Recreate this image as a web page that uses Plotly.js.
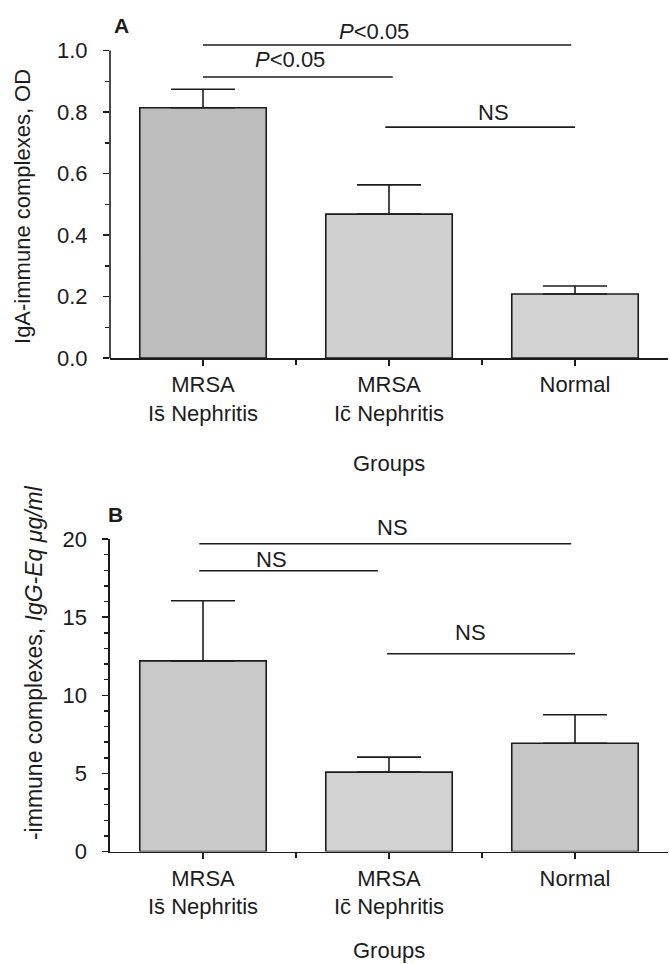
<!DOCTYPE html>
<html>
<head>
<meta charset="utf-8">
<script src="https://cdn.plot.ly/plotly-3.0.1.min.js"></script>
<style>html,body{margin:0;padding:0;background:#fff;}#chart{width:670px;height:964px;}</style>
</head>
<body>
<div id="chart"></div>
<script>
// ---- data ----
const categories = ['MRSA<br>Is\u0304 Nephritis', 'MRSA<br>Ic\u0304 Nephritis', 'Normal'];
const xIndex = [0, 1, 2];
const igaMean = [0.814, 0.468, 0.208];
const igaErr = [0.060, 0.095, 0.026];
const iggMean = [12.2, 5.08, 6.93];
const iggErr = [3.85, 0.96, 1.82];
const yTicksA = [0, 0.2, 0.4, 0.6, 0.8, 1.0];
const yTicksB = [0, 5, 10, 15, 20];
const sigLabelsA = ['<i>P</i>&lt;0.05', '<i>P</i>&lt;0.05', 'NS'];
const sigLabelsB = ['NS', 'NS', 'NS'];

// ---- styles / positions ----
const colorsA = ['#bdbdbd', '#d0d0d0', '#d2d2d2'];
const colorsB = ['#c9c9c9', '#d2d2d2', '#c6c6c6'];
const ink = '#1c1c1c';
const FONT = 'Liberation Sans, Arial, Helvetica, sans-serif';
// comparison lines (data coords) and their label positions (x data, y paper)
const barsA = {from: [0, 0, 0.98], to: [1.98, 1.02, 2.0], y: [1.018, 0.914, 0.751],
  tx: [0.92, 0.47, 1.56], ty: [0.9678, 0.9378, 0.8828]};
const barsB = {from: [-0.02, -0.02, 0.99], to: [1.98, 0.94, 2.0], y: [19.7, 17.97, 12.66],
  tx: [1.02, 0.37, 1.44], ty: [0.4533, 0.4201, 0.3434]};

function barTrace(y, err, colors, xa, ya) {
  return {
    type: 'bar', x: xIndex, y: y, xaxis: xa, yaxis: ya, width: 0.68,
    marker: {color: colors, line: {color: ink, width: 1.6}},
    error_y: {type: 'data', symmetric: false, array: err, arrayminus: [0, 0, 0],
      color: ink, thickness: 1.6, width: 32},
    showlegend: false, hoverinfo: 'skip'
  };
}

const data = [
  barTrace(igaMean, igaErr, colorsA, 'x', 'y'),
  barTrace(iggMean, iggErr, colorsB, 'x2', 'y2')
];

const xCommon = {
  range: [-0.5, 2.5], tickmode: 'array', tickvals: xIndex, ticktext: categories,
  ticks: 'outside', ticklen: 6, tickwidth: 1.5, tickcolor: ink,
  showline: true, linewidth: 1.6, linecolor: ink, showgrid: false, zeroline: false,
  minor: {tickmode: 'array', tickvals: [0.5, 1.5], ticks: 'outside', ticklen: 5, tickwidth: 1.5, tickcolor: ink},
  tickfont: {family: FONT, size: 22, color: ink}
};

const shapes = [];
// axis line for panel A (stops at 1.0)
shapes.push({type: 'line', xref: 'x domain', yref: 'y', x0: 0, x1: 0, y0: 0, y1: 1.0,
  line: {color: ink, width: 1.6}});
const annotations = [];
function addSig(b, labels, xr, yr) {
  for (let i = 0; i < labels.length; i++) {
    shapes.push({type: 'line', xref: xr, yref: yr, x0: b.from[i], x1: b.to[i], y0: b.y[i], y1: b.y[i],
      line: {color: ink, width: 1.6}});
    annotations.push({xref: xr, yref: 'paper', x: b.tx[i], y: b.ty[i], text: labels[i], showarrow: false,
      xanchor: 'center', yanchor: 'middle', font: {family: FONT, size: 22, color: ink}});
  }
}
addSig(barsA, sigLabelsA, 'x', 'y');
addSig(barsB, sigLabelsB, 'x2', 'y2');

annotations.push({xref: 'x', yref: 'paper', x: -0.44, y: 0.974, text: '<b>A</b>', showarrow: false,
  xanchor: 'center', yanchor: 'middle', font: {family: FONT, size: 21, color: ink}});
annotations.push({xref: 'x2', yref: 'paper', x: -0.47, y: 0.4668, text: '<b>B</b>', showarrow: false,
  xanchor: 'center', yanchor: 'middle', font: {family: FONT, size: 21, color: ink}});
annotations.push({xref: 'x', yref: 'paper', x: 1, y: 0.5197, text: 'Groups', showarrow: false,
  xanchor: 'center', yanchor: 'middle', font: {family: FONT, size: 22, color: ink}});
annotations.push({xref: 'x2', yref: 'paper', x: 1, y: 0.0145, text: 'Groups', showarrow: false,
  xanchor: 'center', yanchor: 'middle', font: {family: FONT, size: 22, color: ink}});
annotations.push({xref: 'paper', yref: 'paper', x: -0.1559, y: 0.7853, text: 'IgA-immune complexes, OD',
  textangle: -90, showarrow: false, xanchor: 'center', yanchor: 'middle',
  font: {family: FONT, size: 22, color: ink}});
annotations.push({xref: 'paper', yref: 'paper', x: -0.1362, y: 0.3122,
  text: '-immune complexes, <i>IgG-Eq \u03bcg/ml</i>',
  textangle: -90, showarrow: false, xanchor: 'center', yanchor: 'middle',
  font: {family: FONT, size: 23, color: ink}});

const layout = {
  width: 670, height: 964,
  margin: {l: 110, r: 2, t: 0, b: 0},
  paper_bgcolor: '#fff', plot_bgcolor: '#fff',
  font: {family: FONT, size: 22, color: ink},
  bargap: 0.32,
  xaxis: Object.assign({}, xCommon, {anchor: 'y', domain: [0, 1]}),
  xaxis2: Object.assign({}, xCommon, {anchor: 'y2', domain: [0, 1]}),
  yaxis: {
    anchor: 'x', domain: [0.62863, 0.95716], range: [0, 1.03],
    tickmode: 'array', tickvals: yTicksA, tickformat: '.1f',
    ticks: 'outside', ticklen: 6, tickwidth: 1.5, tickcolor: ink, ticklabelstandoff: 11,
    minor: {tickmode: 'array', tickvals: [0.1, 0.3, 0.5, 0.7, 0.9], ticks: 'outside', ticklen: 4, tickwidth: 1.5, tickcolor: ink},
    showline: false, showgrid: false, zeroline: false,
    tickfont: {family: FONT, size: 22, color: ink}
  },
  yaxis2: {
    anchor: 'x2', domain: [0.1167, 0.44087], range: [0, 20],
    tickmode: 'array', tickvals: yTicksB,
    ticks: 'outside', ticklen: 6, tickwidth: 1.5, tickcolor: ink, ticklabelstandoff: 11,
    minor: {tickmode: 'linear', tick0: 0, dtick: 1, ticks: 'outside', ticklen: 4, tickwidth: 1.5, tickcolor: ink},
    showline: true, linewidth: 1.6, linecolor: ink, showgrid: false, zeroline: false,
    tickfont: {family: FONT, size: 22, color: ink}
  },
  shapes: shapes,
  annotations: annotations
};

Plotly.newPlot('chart', data, layout, {staticPlot: true, displayModeBar: false});
</script>
</body>
</html>
